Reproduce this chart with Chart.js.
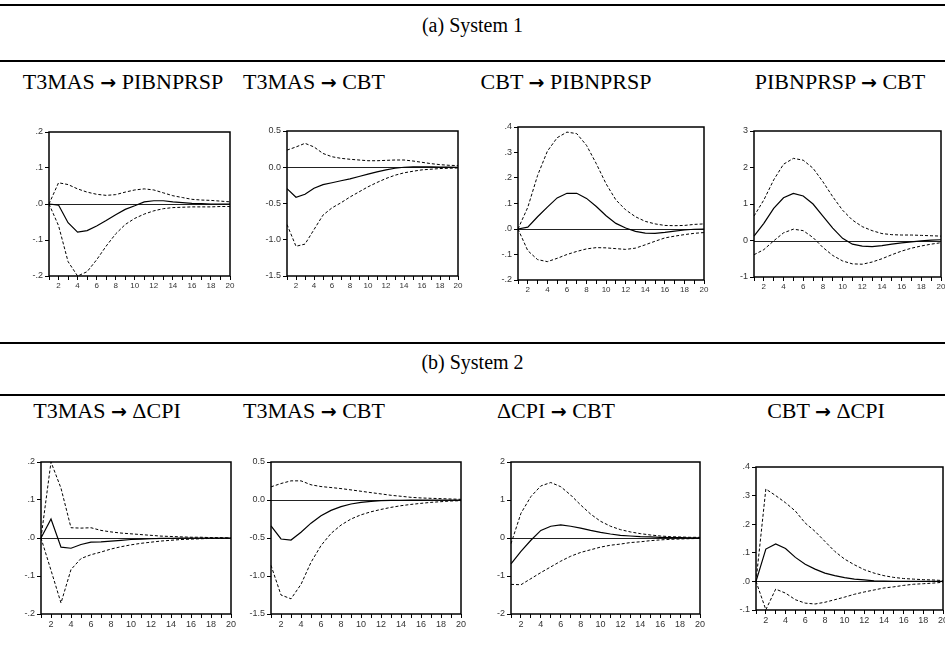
<!DOCTYPE html>
<html>
<head>
<meta charset="utf-8">
<script src="https://cdn.jsdelivr.net/npm/chart.js@4.4.0/dist/chart.umd.min.js"></script>
<style>
  html, body { margin: 0; padding: 0; background: #fff; overflow: hidden; }
  #page { position: relative; width: 945px; height: 669px; overflow: hidden;
          font-family: "Liberation Serif", "Times New Roman", serif; color: #000; }
  .rule { position: absolute; left: 0; width: 945px; height: 2px; background: #000; }
  .head { position: absolute; left: 0; width: 945px; text-align: center; font-size: 20px; line-height: 22px; }
  .ptitle { position: absolute; font-size: 22px; line-height: 22px; white-space: nowrap; transform: translateX(-50%); }
  .ptitle b { font-family: "DejaVu Sans", sans-serif; font-size: 19px; }
  canvas { position: absolute; }
</style>
</head>
<body>
<div id="page">
  <div class="rule" style="top:4px"></div>
  <div class="head" style="top:14px">(a) System 1</div>
  <div class="rule" style="top:60px"></div>
  <div class="ptitle" style="left:123px;top:71px">T3MAS <b>→</b> PIBNPRSP</div>
  <div class="ptitle" style="left:314px;top:71px">T3MAS <b>→</b> CBT</div>
  <div class="ptitle" style="left:566px;top:71px">CBT <b>→</b> PIBNPRSP</div>
  <div class="ptitle" style="left:840px;top:71px">PIBNPRSP <b>→</b> CBT</div>

  <div class="rule" style="top:342px"></div>
  <div class="head" style="top:351px">(b) System 2</div>
  <div class="rule" style="top:394px"></div>
  <div class="ptitle" style="left:107px;top:400px">T3MAS <b>→</b> ΔCPI</div>
  <div class="ptitle" style="left:314px;top:400px">T3MAS <b>→</b> CBT</div>
  <div class="ptitle" style="left:556px;top:400px">ΔCPI <b>→</b> CBT</div>
  <div class="ptitle" style="left:826px;top:400px">CBT <b>→</b> ΔCPI</div>
</div>

<script>
// horizonten 1..20
const horizons = [1, 2, 3, 4, 5, 6, 7, 8, 9, 10, 11, 12, 13, 14, 15, 16, 17, 18, 19, 20];

// ---- System 1 ----
// T3MAS -> PIBNPRSP
const resp1  = [0, -0.003, -0.052, -0.078, -0.074, -0.061, -0.046, -0.030, -0.015, -0.005, 0.006, 0.009, 0.009, 0.006, 0.004, 0.002, 0.001, 0, 0, 0];
const upper1 = [0, 0.059, 0.054, 0.042, 0.033, 0.027, 0.024, 0.026, 0.033, 0.039, 0.042, 0.039, 0.031, 0.023, 0.018, 0.013, 0.011, 0.010, 0.008, 0.006];
const lower1 = [0, -0.060, -0.160, -0.200, -0.188, -0.155, -0.117, -0.083, -0.057, -0.040, -0.028, -0.019, -0.013, -0.010, -0.009, -0.008, -0.008, -0.008, -0.007, -0.007];

// T3MAS -> CBT
const resp2  = [-0.295, -0.414, -0.373, -0.29, -0.24, -0.214, -0.186, -0.16, -0.127, -0.095, -0.064, -0.036, -0.014, 0, 0.005, 0.005, 0.004, 0.002, 0.001, 0];
const upper2 = [0.236, 0.28, 0.33, 0.28, 0.19, 0.145, 0.123, 0.11, 0.10, 0.09, 0.09, 0.095, 0.10, 0.10, 0.086, 0.068, 0.05, 0.036, 0.027, 0.023];
const lower2 = [-0.79, -1.09, -1.06, -0.86, -0.66, -0.56, -0.49, -0.41, -0.34, -0.27, -0.21, -0.155, -0.11, -0.077, -0.055, -0.036, -0.027, -0.018, -0.014, -0.010];

// CBT -> PIBNPRSP
const resp3  = [0, 0.007, 0.048, 0.086, 0.122, 0.14, 0.14, 0.12, 0.088, 0.052, 0.022, 0.004, -0.009, -0.016, -0.017, -0.013, -0.008, -0.004, -0.001, 0];
const upper3 = [0, 0.085, 0.21, 0.305, 0.358, 0.38, 0.374, 0.328, 0.256, 0.177, 0.114, 0.075, 0.048, 0.03, 0.02, 0.014, 0.013, 0.014, 0.018, 0.02];
const lower3 = [0, -0.085, -0.12, -0.128, -0.115, -0.10, -0.088, -0.078, -0.073, -0.074, -0.077, -0.08, -0.075, -0.062, -0.048, -0.035, -0.028, -0.022, -0.017, -0.014];

// PIBNPRSP -> CBT
const resp4  = [0.12, 0.47, 0.88, 1.17, 1.29, 1.22, 1.0, 0.67, 0.34, 0.06, -0.10, -0.156, -0.17, -0.14, -0.10, -0.064, -0.037, -0.01, 0.01, 0.02];
const upper4 = [0.67, 1.11, 1.66, 2.09, 2.25, 2.2, 1.98, 1.61, 1.2, 0.83, 0.56, 0.38, 0.27, 0.19, 0.16, 0.15, 0.15, 0.14, 0.13, 0.12];
const lower4 = [-0.39, -0.25, -0.01, 0.21, 0.31, 0.27, 0.08, -0.19, -0.41, -0.56, -0.64, -0.65, -0.59, -0.50, -0.39, -0.29, -0.21, -0.15, -0.10, -0.06];

// ---- System 2 ----
// T3MAS -> dCPI
const resp5  = [0, 0.05, -0.024, -0.027, -0.017, -0.011, -0.010, -0.008, -0.006, -0.004, -0.003, -0.002, -0.001, -0.001, 0, 0, 0, 0, 0, 0];
const upper5 = [0, 0.20, 0.131, 0.027, 0.026, 0.027, 0.020, 0.016, 0.013, 0.011, 0.009, 0.007, 0.005, 0.004, 0.003, 0.002, 0.002, 0.001, 0.001, 0];
const lower5 = [0, -0.085, -0.171, -0.083, -0.054, -0.044, -0.037, -0.029, -0.023, -0.018, -0.014, -0.011, -0.008, -0.006, -0.004, -0.003, -0.002, -0.001, -0.001, 0];

// T3MAS -> CBT
const resp6  = [-0.34, -0.513, -0.527, -0.425, -0.305, -0.208, -0.137, -0.088, -0.053, -0.031, -0.018, -0.009, -0.005, -0.003, -0.002, -0.001, 0, 0, 0, 0];
const upper6 = [0.173, 0.217, 0.252, 0.252, 0.20, 0.177, 0.164, 0.15, 0.133, 0.115, 0.097, 0.08, 0.062, 0.049, 0.035, 0.027, 0.022, 0.018, 0.013, 0.009];
const lower6 = [-0.86, -1.25, -1.30, -1.11, -0.82, -0.60, -0.44, -0.33, -0.25, -0.195, -0.155, -0.124, -0.097, -0.075, -0.058, -0.044, -0.031, -0.022, -0.013, -0.009];

// dCPI -> CBT
const resp7  = [-0.68, -0.35, -0.06, 0.20, 0.31, 0.345, 0.31, 0.26, 0.20, 0.15, 0.106, 0.07, 0.053, 0.035, 0.027, 0.018, 0.01, 0.008, 0.005, 0.003];
const upper7 = [-0.15, 0.65, 1.09, 1.37, 1.46, 1.35, 1.13, 0.87, 0.63, 0.44, 0.31, 0.22, 0.16, 0.115, 0.08, 0.053, 0.035, 0.027, 0.018, 0.018];
const lower7 = [-1.22, -1.23, -1.07, -0.91, -0.76, -0.61, -0.48, -0.38, -0.31, -0.24, -0.19, -0.16, -0.12, -0.10, -0.07, -0.05, -0.035, -0.026, -0.018, -0.01];

// CBT -> dCPI
const resp8  = [0, 0.113, 0.131, 0.115, 0.084, 0.06, 0.043, 0.029, 0.02, 0.013, 0.008, 0.005, 0.002, 0.001, 0, 0, 0, 0, 0, 0];
const upper8 = [0, 0.323, 0.30, 0.275, 0.246, 0.204, 0.175, 0.14, 0.105, 0.078, 0.058, 0.041, 0.029, 0.02, 0.014, 0.01, 0.008, 0.006, 0.005, 0.003];
const lower8 = [0, -0.099, -0.027, -0.041, -0.064, -0.076, -0.079, -0.073, -0.064, -0.055, -0.045, -0.037, -0.03, -0.023, -0.019, -0.014, -0.01, -0.008, -0.006, -0.003];

// y-as labels
const fmtDot = (v) => (v < -1e-9 ? "-" : "") + Math.abs(v).toFixed(1).replace(/^0/, "");
const fmtOne = (v) => (Math.abs(v) < 1e-9 ? 0 : v).toFixed(1);
const fmtInt = (v) => String(Math.round(v));

// plotvlak: [links, boven, rechts, onder] in pixels, xs = lettergrootte x-as
const panels = [
  { box: [49, 132, 230, 276],  xs: 8, min: -0.2, max: 0.2, step: 0.1, fmt: fmtDot, d: [resp1, upper1, lower1] },
  { box: [287, 131, 458, 276], xs: 8, min: -1.5, max: 0.5, step: 0.5, fmt: fmtOne, d: [resp2, upper2, lower2] },
  { box: [518, 127, 704, 280], xs: 8, min: -0.2, max: 0.4, step: 0.1, fmt: fmtDot, d: [resp3, upper3, lower3] },
  { box: [754, 131, 941, 277], xs: 8, min: -1, max: 3, step: 1, fmt: fmtInt, d: [resp4, upper4, lower4] },
  { box: [41, 462, 231, 614],  xs: 9, min: -0.2, max: 0.2, step: 0.1, fmt: fmtDot, d: [resp5, upper5, lower5] },
  { box: [271, 462, 461, 614], xs: 9, min: -1.5, max: 0.5, step: 0.5, fmt: fmtOne, d: [resp6, upper6, lower6] },
  { box: [511, 462, 700, 614], xs: 9, min: -2, max: 2, step: 1, fmt: fmtInt, d: [resp7, upper7, lower7] },
  { box: [756, 467, 943, 610], xs: 9, min: -0.1, max: 0.4, step: 0.1, fmt: fmtDot, d: [resp8, upper8, lower8] },
];

const AXW = 32, PADT = 8, PADR = 12, AXH = 22;

// kader + nullijn
const framePlugin = {
  id: "frame",
  beforeDatasetsDraw(chart) {
    const { ctx, chartArea: a, scales } = chart;
    const y0 = Math.round(scales.y.getPixelForValue(0)) + 0.5;
    ctx.save();
    ctx.strokeStyle = "#222";
    ctx.lineWidth = 1;
    ctx.beginPath();
    ctx.moveTo(a.left, y0);
    ctx.lineTo(a.right, y0);
    ctx.stroke();
    ctx.restore();
  },
  afterDraw(chart) {
    const { ctx, chartArea: a } = chart;
    ctx.save();
    ctx.strokeStyle = "#000";
    ctx.lineWidth = 1.5;
    ctx.strokeRect(a.left, a.top, a.right - a.left, a.bottom - a.top);
    ctx.restore();
  },
};

const page = document.getElementById("page");

panels.forEach((p) => {
  const [l, t, r, b] = p.box;
  const cv = document.createElement("canvas");
  const w = r - l + AXW + PADR;
  const h = b - t + PADT + AXH;
  cv.width = w;
  cv.height = h;
  cv.style.left = l - AXW + "px";
  cv.style.top = t - PADT + "px";
  cv.style.width = w + "px";
  cv.style.height = h + "px";
  page.appendChild(cv);

  const line = (data, dashed, width) => ({
    data,
    borderColor: "#000",
    borderWidth: width,
    borderDash: dashed ? [3, 2] : [],
    pointRadius: 0,
    tension: 0,
    fill: false,
  });

  new Chart(cv.getContext("2d"), {
    type: "line",
    data: {
      labels: horizons,
      datasets: [line(p.d[0], false, 1.2), line(p.d[1], true, 1), line(p.d[2], true, 1)],
    },
    options: {
      responsive: false,
      animation: false,
      devicePixelRatio: 1,
      layout: { padding: { left: 0, top: PADT, right: PADR, bottom: 0 } },
      plugins: { legend: { display: false }, tooltip: { enabled: false } },
      scales: {
        x: {
          type: "category",
          offset: false,
          grid: { display: true, drawOnChartArea: false, drawTicks: true, tickLength: 4, color: "#000", lineWidth: 1 },
          border: { display: false },
          ticks: {
            autoSkip: false,
            maxRotation: 0,
            padding: 1,
            color: "#333",
            font: { family: "Liberation Sans, Arial, sans-serif", size: p.xs },
            callback: (v, i) => (horizons[i] % 2 === 0 ? String(horizons[i]) : ""),
          },
          afterFit: (s) => { s.height = AXH; },
        },
        y: {
          min: p.min,
          max: p.max,
          grid: { display: true, drawOnChartArea: false, drawTicks: true, tickLength: 4, color: "#000", lineWidth: 1 },
          border: { display: false },
          ticks: {
            stepSize: p.step,
            padding: 2,
            color: "#333",
            font: { family: "Liberation Sans, Arial, sans-serif", size: 9 },
            callback: (v) => p.fmt(v),
          },
          afterFit: (s) => { s.width = AXW; },
        },
      },
    },
    plugins: [framePlugin],
  });
});
</script>
</body>
</html>
